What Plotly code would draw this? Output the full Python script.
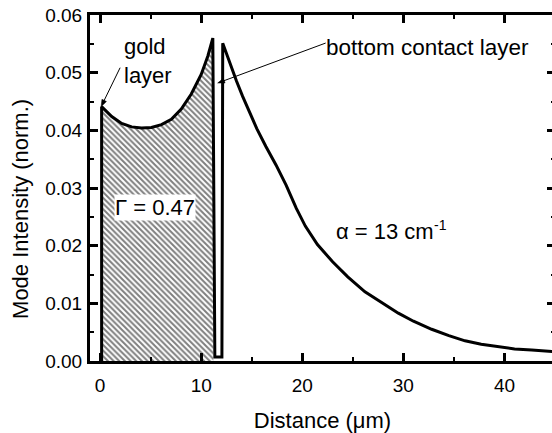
import math
import plotly.graph_objects as go

# Mode intensity profile across the waveguide (distance in um, intensity normalised)
gold_x = [0.15, 0.15, 1.15, 2.13, 3.12, 4.1, 5.08, 6.07, 7.05, 8.03, 9.02, 10.0, 10.66, 11.05, 11.15]
gold_y = [0.0, 0.0441, 0.0424, 0.0412, 0.0406, 0.0404, 0.0405, 0.0410, 0.0419, 0.0437, 0.0463, 0.0497, 0.0529, 0.0552, 0.0560]

contact_x = [11.35, 11.4, 12.0, 12.05]
contact_y = [0.0007, 0.0007, 0.0007, 0.0007]

decay_x = [12.13, 12.8, 13.5, 14.1, 14.8, 15.5, 16.4, 17.4, 18.4, 19.4, 20.3, 21.5, 23.0, 24.5,
           26.2, 28.0, 29.5, 31.0, 32.8, 34.5, 36.1, 37.7, 39.3, 41.0, 42.7, 44.3, 45.0]
decay_y = [0.0551, 0.0517, 0.0485, 0.0459, 0.0430, 0.0403, 0.0372, 0.0340, 0.0305, 0.0265, 0.0234,
           0.0202, 0.0172, 0.0146, 0.0120, 0.0099, 0.0083, 0.0069, 0.0055, 0.0044, 0.0035, 0.0029,
           0.0025, 0.0021, 0.0019, 0.0017, 0.0016]

y_ticks = [0.00, 0.01, 0.02, 0.03, 0.04, 0.05, 0.06]
x_ticks = [0, 10, 20, 30, 40]

FONT = "Arial, 'Liberation Sans', Helvetica, sans-serif"

fig = go.Figure()

# hatched confinement region (gold layer up to the bottom contact)
fig.add_trace(go.Scatter(
    x=gold_x + [gold_x[-1] + 0.05], y=gold_y + [0.0],
    mode="lines", fill="toself", line=dict(width=0, color="black"),
    fillcolor="white",
    fillpattern=dict(shape="\\", fgcolor="black", bgcolor="white", size=4, solidity=0.5),
    hoverinfo="skip", showlegend=False,
))

# full intensity curve
fig.add_trace(go.Scatter(
    x=gold_x + contact_x + decay_x, y=gold_y + contact_y + decay_y,
    mode="lines", line=dict(color="black", width=3),
    showlegend=False,
))

axis_common = dict(
    showline=True, linewidth=3, linecolor="black", mirror="ticks",
    ticks="inside", ticklen=8, tickwidth=2.5, tickcolor="black",
    showgrid=False, zeroline=False,
    tickfont=dict(family=FONT, size=19, color="black"),
)

fig.update_xaxes(
    range=[-1, 45], tickvals=x_ticks, ticklabelstandoff=5,
    minor=dict(ticks="inside", ticklen=4, tickwidth=2, dtick=5, tick0=0, tickcolor="black"),
    title=dict(text="Distance (μm)", font=dict(family=FONT, size=22, color="black"), standoff=18),
    **axis_common,
)
fig.update_yaxes(
    range=[0, 0.06], tickvals=y_ticks, tickformat=".2f", ticklabelstandoff=1,
    minor=dict(ticks="inside", ticklen=4, tickwidth=2, dtick=0.005, tick0=0, tickcolor="black"),
    **axis_common,
)


def pointer(head_x, head_y, dx, dy, head_len=7.0, half_w=2.5):
    """Thin leader line with a filled head at (head_x, head_y); the tail sits
    dx pixels right and dy pixels up from the head."""
    n = math.hypot(dx, dy)
    ux, uy = dx / n, dy / n
    bx, by = head_len * ux, head_len * uy
    px, py = uy * half_w, -ux * half_w
    common = dict(xref="x", yref="y", xsizemode="pixel", ysizemode="pixel",
                  xanchor=head_x, yanchor=head_y)
    line = dict(type="line", x0=bx * 0.8, y0=by * 0.8, x1=dx, y1=dy,
                line=dict(color="black", width=1), **common)
    head = dict(type="path",
                path=f"M0,0 L{bx + px:.2f},{by + py:.2f} L{bx - px:.2f},{by - py:.2f} Z",
                fillcolor="black", line=dict(color="black", width=0.5), **common)
    return [line, head]


shapes = pointer(0.1, 0.0441, 19, 39) + pointer(11.63, 0.0482, 108, 40)

txt = dict(family=FONT, size=22, color="black")
annotations = [
    dict(x=-0.148, y=0.44, xref="paper", yref="paper", text="Mode Intensity (norm.)",
         textangle=-90, showarrow=False, font=txt, xanchor="center", yanchor="middle"),
    dict(x=2.16, y=0.0521, text="gold<br>layer", showarrow=False, font=txt,
         xanchor="left", yanchor="middle", align="left"),
    dict(x=22.19, y=0.0544, text="bottom contact layer", showarrow=False,
         font=dict(family=FONT, size=22.5, color="black"), xanchor="left", yanchor="middle"),
    dict(x=5.46, y=0.0267, text="Γ = 0.47", showarrow=False, font=txt,
         bgcolor="white", borderpad=0, xanchor="center", yanchor="middle"),
    # absorption coefficient, with the exponent set as a raised small label
    dict(x=33.2, y=0.0225, text="α = 13 cm", showarrow=False, font=txt,
         xanchor="right", yanchor="middle"),
    dict(x=32.85, y=0.0235, text="-1", showarrow=False,
         font=dict(family=FONT, size=14, color="black"), xanchor="left", yanchor="middle"),
]

fig.update_layout(
    width=562, height=433,
    margin=dict(l=90, r=4, t=15, b=70),
    plot_bgcolor="white", paper_bgcolor="white",
    font=dict(family=FONT, color="black"),
    annotations=annotations,
    shapes=shapes,
)

# the frame's right edge runs just past the visible page width
fig.write_html(
    "out.html",
    post_script="document.documentElement.style.overflow='hidden';document.body.style.overflow='hidden';",
)
